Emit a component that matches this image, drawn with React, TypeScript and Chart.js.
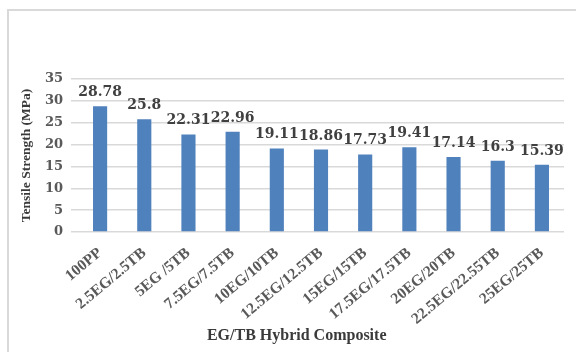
import React, { useEffect, useRef } from "react";
import { Chart, registerables } from "chart.js";

Chart.register(...registerables);

const categories = [
  "100PP",
  "2.5EG/2.5TB",
  "5EG /5TB",
  "7.5EG/7.5TB",
  "10EG/10TB",
  "12.5EG/12.5TB",
  "15EG/15TB",
  "17.5EG/17.5TB",
  "20EG/20TB",
  "22.5EG/22.55TB",
  "25EG/25TB",
];
const tensileValues = [28.78, 25.8, 22.31, 22.96, 19.11, 18.86, 17.73, 19.41, 17.14, 16.3, 15.39];
const valueLabels = ["28.78", "25.8", "22.31", "22.96", "19.11", "18.86", "17.73", "19.41", "17.14", "16.3", "15.39"];
const yTitle = "Tensile Strength (MPa)";
const xTitle = "EG/TB Hybrid Composite";

const labelPlugin = {
  id: "labelsAndTitles",
  afterDatasetsDraw(chart: any) {
    const ctx = chart.ctx;
    const meta = chart.getDatasetMeta(0);
    ctx.save();
    ctx.font = "bold 14px 'DejaVu Serif'";
    ctx.fillStyle = "#404040";
    ctx.textAlign = "center";
    ctx.textBaseline = "alphabetic";
    meta.data.forEach((el: any, i: number) => {
      ctx.fillText(valueLabels[i], el.x, el.y - 10);
    });
    ctx.restore();

    const area = chart.chartArea;
    ctx.save();
    ctx.fillStyle = "#3a3a3a";
    ctx.font = "bold 13.5px 'Liberation Serif'";
    ctx.textAlign = "center";
    ctx.textBaseline = "middle";
    ctx.translate(area.left - 51, (area.top + area.bottom) / 2);
    ctx.rotate(-Math.PI / 2);
    ctx.fillText(yTitle, 0, 0);
    ctx.restore();

    ctx.save();
    ctx.fillStyle = "#3a3a3a";
    ctx.font = "bold 16px 'Liberation Serif'";
    ctx.textAlign = "center";
    ctx.textBaseline = "alphabetic";
    ctx.fillText(xTitle, area.left + (area.right - area.left) * 0.45, area.bottom + 108);
    ctx.restore();
  },
};

export default function App() {
  const canvasRef = useRef<HTMLCanvasElement | null>(null);

  useEffect(() => {
    if (!canvasRef.current) return;
    const chart = new Chart(canvasRef.current, {
      type: "bar",
      data: {
        labels: categories,
        datasets: [
          {
            data: tensileValues,
            backgroundColor: "#4f81bd",
            barPercentage: 0.32,
            categoryPercentage: 1,
          },
        ],
      },
      options: {
        animation: false,
        responsive: false,
        maintainAspectRatio: false,
        layout: { padding: { left: 8, top: 79, right: 12, bottom: 0 } },
        plugins: { legend: { display: false }, tooltip: { enabled: false } },
        scales: {
          x: {
            grid: { display: false },
            border: { display: false },
            ticks: {
              minRotation: 40,
              maxRotation: 40,
              autoSkip: false,
              color: "#595959",
              font: { family: "'Liberation Serif'", size: 15.5, weight: "bold" },
              padding: 4,
            },
            afterFit(scale: any) {
              scale.height = 120;
            },
          },
          y: {
            min: 0,
            max: 35,
            ticks: {
              stepSize: 5,
              color: "#595959",
              font: { family: "'DejaVu Serif'", size: 13, weight: "bold" },
              padding: 8,
            },
            grid: { color: "#d9d9d9", lineWidth: 1.5, tickLength: 7, tickColor: "#d9d9d9" },
            border: { display: false },
            afterFit(scale: any) {
              scale.width = 70;
            },
          },
        },
      },
      plugins: [labelPlugin],
    });
    return () => chart.destroy();
  }, []);

  return (
    <div style={{ position: "fixed", left: 0, top: 0, width: 576, height: 352, background: "#fff", overflow: "hidden" }}>
      <div
        style={{
          position: "absolute",
          left: 7,
          top: 9,
          width: 620,
          height: 420,
          border: "2px solid #d9d9d9",
          boxSizing: "border-box",
        }}
      />
      <canvas ref={canvasRef} width={576} height={352} style={{ position: "absolute", left: 0, top: 0 }} />
    </div>
  );
}
